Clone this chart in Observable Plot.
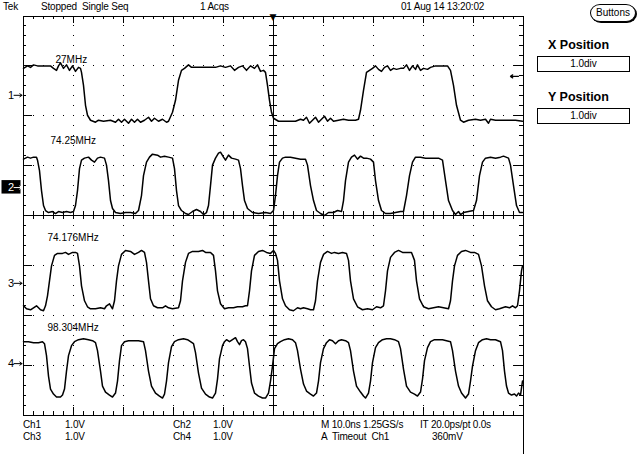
<!DOCTYPE html>
<html><head><meta charset="utf-8">
<script src="https://cdn.jsdelivr.net/npm/d3@7"></script>
<script src="https://cdn.jsdelivr.net/npm/@observablehq/plot@0.6"></script>
<style>
body{margin:0;background:#fff}
#wrap{position:relative;width:640px;height:454px;overflow:hidden;font-family:"Liberation Sans",Arial,sans-serif;color:#000;background:#fff}
#wrap svg{position:absolute;left:0;top:0}
.t{position:absolute;font-size:10px;line-height:12px;white-space:pre;letter-spacing:-0.2px}
.h{position:absolute;font-size:12.5px;font-weight:bold;line-height:14px;white-space:pre}
.box{position:absolute;border:1px solid #000;box-sizing:border-box;font-size:10px;text-align:center;background:#fff}
</style></head><body><div id="wrap"></div>
<script>
// ---- waveform data: [time (ns, 10 ns/div), screen position (div)] ----
const ch1 = [[-49.9,2.95],[-49.1,3.00],[-48.5,2.97],[-47.9,3.02],[-47.1,3.00],[-45.9,3.00],[-44.5,3.00],[-43.9,2.95],[-43.3,2.91],[-42.9,3.00],[-42.5,3.06],[-41.9,2.95],[-41.3,3.02],[-40.7,2.91],[-40.1,3.00],[-39.5,2.89],[-38.9,2.97],[-38.5,2.95],[-38.3,2.87],[-37.9,2.61],[-37.5,2.21],[-37.1,2.01],[-36.5,1.91],[-35.5,1.87],[-34.9,1.91],[-33.9,1.89],[-32.5,1.91],[-31.5,1.87],[-30.9,1.93],[-30.3,1.87],[-29.7,1.93],[-28.9,1.85],[-28.3,1.93],[-27.7,1.87],[-27.1,1.93],[-26.5,1.87],[-25.7,1.91],[-24.9,1.97],[-24.3,1.89],[-23.7,1.95],[-22.9,1.89],[-22.1,1.93],[-21.3,1.87],[-20.9,1.89],[-20.1,2.07],[-19.5,2.31],[-18.9,2.71],[-18.3,2.91],[-17.7,2.95],[-16.9,3.02],[-16.3,2.97],[-15.5,2.97],[-13.5,2.97],[-11.5,2.97],[-10.5,3.00],[-9.5,2.97],[-8.5,3.00],[-7.7,2.91],[-6.9,2.97],[-6.1,3.00],[-5.3,2.91],[-4.5,3.00],[-3.7,2.95],[-3.1,3.02],[-2.5,2.89],[-1.9,2.91],[-1.5,2.87],[-1.1,2.61],[-0.7,2.31],[-0.3,2.07],[0.1,1.95],[1.1,1.89],[2.5,1.89],[4.5,1.89],[5.5,1.93],[6.1,1.91],[6.7,1.97],[7.3,1.85],[7.9,1.91],[8.5,1.97],[9.1,1.87],[9.7,1.93],[10.3,1.99],[10.9,1.89],[11.5,1.95],[12.1,1.89],[13.1,1.91],[14.1,1.93],[15.1,1.91],[16.5,1.91],[17.1,1.93],[17.5,2.11],[18.1,2.51],[18.7,2.87],[19.3,2.91],[19.9,2.95],[20.5,3.00],[21.1,2.93],[21.7,2.89],[22.3,2.97],[22.9,3.00],[23.5,2.91],[24.1,2.95],[24.7,2.93],[25.5,2.95],[26.1,2.95],[26.7,3.02],[27.3,2.91],[27.9,3.00],[28.5,2.93],[28.9,3.02],[29.5,2.91],[30.1,2.95],[30.9,2.93],[31.5,2.97],[32.5,3.00],[33.5,3.00],[34.9,3.00],[35.5,2.91],[36.1,2.61],[36.7,2.21],[37.5,1.91],[38.1,1.87],[39.1,1.91],[40.5,1.93],[41.5,1.91],[42.5,1.93],[43.1,1.85],[43.5,1.93],[44.5,1.91],[46.5,1.91],[48.5,1.91],[49.9,1.89]];
const ch2 = [[-49.9,1.13],[-49.1,1.17],[-48.5,1.15],[-47.9,1.17],[-47.3,1.17],[-47.1,1.11],[-46.7,0.90],[-46.3,0.50],[-45.9,0.20],[-45.5,0.10],[-44.9,0.06],[-44.1,0.08],[-43.5,0.04],[-42.9,0.08],[-42.1,0.06],[-41.3,0.08],[-40.5,0.06],[-39.9,0.08],[-39.5,0.20],[-39.1,0.50],[-38.7,0.94],[-38.3,1.11],[-37.7,1.15],[-36.9,1.17],[-36.3,1.11],[-35.7,1.07],[-35.1,1.15],[-34.5,1.17],[-33.7,1.15],[-33.3,1.01],[-32.9,0.70],[-32.5,0.30],[-32.1,0.14],[-31.5,0.06],[-30.5,0.04],[-29.5,0.06],[-28.5,0.06],[-27.5,0.04],[-26.9,0.10],[-26.3,0.40],[-25.9,0.80],[-25.3,1.07],[-24.7,1.17],[-24.1,1.23],[-23.1,1.21],[-22.5,1.17],[-21.7,1.19],[-20.9,1.17],[-20.1,1.15],[-19.7,0.94],[-19.3,0.50],[-18.9,0.20],[-18.3,0.10],[-17.5,0.04],[-16.9,0.02],[-16.1,0.08],[-15.3,0.12],[-14.5,0.08],[-13.9,0.02],[-13.3,0.06],[-12.9,0.20],[-12.5,0.60],[-12.1,1.01],[-11.5,1.15],[-10.9,1.25],[-10.5,1.27],[-9.9,1.17],[-9.5,1.11],[-8.9,1.21],[-8.3,1.15],[-7.5,1.13],[-6.9,1.11],[-6.5,0.94],[-6.1,0.60],[-5.7,0.30],[-5.1,0.14],[-4.1,0.06],[-2.9,0.04],[-1.5,0.06],[-0.5,0.04],[0.1,0.10],[0.5,0.40],[0.9,0.80],[1.3,1.07],[1.9,1.15],[2.5,1.17],[3.5,1.17],[4.5,1.15],[5.5,1.13],[6.5,1.13],[6.9,1.01],[7.5,0.60],[8.1,0.30],[8.7,0.10],[9.5,0.04],[10.3,0.00],[11.1,0.06],[12.1,0.06],[12.9,0.10],[13.7,0.08],[14.1,0.30],[14.5,0.70],[15.1,1.07],[15.7,1.17],[16.3,1.21],[16.9,1.13],[17.5,1.19],[18.1,1.15],[18.7,1.15],[19.5,1.13],[20.1,1.07],[20.5,0.70],[21.1,0.30],[21.7,0.10],[22.5,0.04],[23.5,0.04],[24.5,0.06],[25.5,0.08],[26.1,0.08],[26.7,0.40],[27.3,0.80],[27.9,1.07],[28.5,1.17],[29.5,1.17],[30.5,1.15],[31.5,1.15],[33.1,1.15],[33.9,1.11],[34.5,0.70],[35.1,0.30],[35.9,0.10],[36.5,0.02],[37.1,0.08],[37.5,0.02],[38.1,0.06],[39.1,0.08],[40.1,0.10],[40.7,0.30],[41.3,0.80],[41.9,1.07],[42.5,1.15],[43.5,1.17],[44.5,1.15],[45.5,1.17],[46.1,1.19],[47.1,1.15],[47.5,1.01],[48.1,0.60],[48.7,0.20],[49.3,0.06],[49.9,0.06]];
const ch3 = [[-49.9,-1.81],[-49.3,-1.87],[-48.5,-1.89],[-47.9,-1.85],[-47.3,-1.81],[-46.9,-1.85],[-46.5,-1.89],[-45.9,-1.91],[-45.5,-1.81],[-45.1,-1.61],[-44.7,-1.31],[-44.3,-1.01],[-43.7,-0.80],[-43.1,-0.76],[-42.1,-0.76],[-41.5,-0.74],[-40.9,-0.78],[-40.1,-0.74],[-39.5,-0.74],[-39.1,-0.76],[-38.7,-1.01],[-38.3,-1.41],[-37.7,-1.71],[-37.1,-1.83],[-36.5,-1.87],[-35.5,-1.87],[-34.5,-1.85],[-33.7,-1.87],[-33.3,-1.81],[-32.7,-1.77],[-32.1,-1.87],[-31.7,-1.71],[-31.3,-1.31],[-30.9,-1.01],[-30.3,-0.78],[-29.5,-0.70],[-28.5,-0.72],[-27.7,-0.78],[-26.9,-0.74],[-26.3,-0.70],[-25.7,-0.74],[-25.3,-0.94],[-24.9,-1.31],[-24.5,-1.67],[-23.9,-1.81],[-23.1,-1.85],[-22.1,-1.85],[-21.5,-1.81],[-20.9,-1.85],[-20.1,-1.87],[-18.9,-1.85],[-18.5,-1.71],[-18.1,-1.31],[-17.5,-0.94],[-16.9,-0.76],[-16.1,-0.72],[-14.9,-0.72],[-14.1,-0.70],[-13.5,-0.74],[-12.5,-0.74],[-11.9,-0.80],[-11.5,-1.11],[-11.1,-1.51],[-10.5,-1.77],[-9.7,-1.87],[-8.9,-1.85],[-7.9,-1.85],[-7.1,-1.83],[-6.1,-1.83],[-5.5,-1.81],[-5.1,-1.81],[-4.7,-1.51],[-4.3,-1.11],[-3.7,-0.80],[-2.9,-0.72],[-2.1,-0.70],[-1.3,-0.74],[-0.5,-0.76],[0.1,-0.70],[0.5,-0.76],[0.9,-0.90],[1.3,-1.31],[1.9,-1.67],[2.5,-1.81],[3.3,-1.89],[4.1,-1.91],[4.9,-1.85],[5.5,-1.87],[6.1,-1.85],[6.9,-1.87],[7.5,-1.89],[8.1,-1.89],[8.5,-1.71],[8.9,-1.31],[9.5,-0.94],[10.1,-0.78],[10.9,-0.72],[11.7,-0.76],[12.3,-0.74],[13.1,-0.76],[13.9,-0.74],[14.7,-0.76],[15.1,-0.90],[15.5,-1.31],[16.1,-1.67],[16.9,-1.83],[17.9,-1.89],[18.9,-1.87],[19.9,-1.89],[20.7,-1.83],[21.5,-1.85],[22.1,-1.81],[22.5,-1.51],[22.9,-1.11],[23.5,-0.84],[24.3,-0.74],[25.1,-0.70],[25.9,-0.74],[26.9,-0.74],[27.7,-0.74],[28.3,-0.90],[28.7,-1.31],[29.3,-1.67],[30.1,-1.83],[31.1,-1.87],[32.1,-1.85],[33.1,-1.83],[34.1,-1.85],[35.1,-1.87],[35.5,-1.71],[35.9,-1.31],[36.3,-1.01],[36.9,-0.80],[37.7,-0.72],[38.5,-0.70],[39.5,-0.74],[40.3,-0.74],[41.1,-0.78],[41.7,-1.01],[42.3,-1.41],[42.9,-1.71],[43.7,-1.83],[44.5,-1.89],[45.3,-1.87],[45.9,-1.85],[46.5,-1.83],[47.3,-1.85],[47.9,-1.81],[48.5,-1.85],[48.9,-1.81],[49.3,-1.51],[49.7,-1.11],[49.9,-1.01]];
const ch4 = [[-49.9,-2.53],[-48.9,-2.53],[-47.9,-2.55],[-46.9,-2.55],[-46.1,-2.53],[-45.7,-2.57],[-45.3,-2.81],[-44.9,-3.22],[-44.5,-3.48],[-43.9,-3.58],[-43.3,-3.64],[-42.5,-3.64],[-42.1,-3.60],[-41.7,-3.48],[-41.3,-3.12],[-40.9,-2.81],[-40.3,-2.61],[-39.7,-2.53],[-38.9,-2.49],[-37.9,-2.47],[-36.9,-2.49],[-36.1,-2.51],[-35.5,-2.55],[-35.1,-2.71],[-34.5,-3.12],[-34.1,-3.42],[-33.5,-3.54],[-32.7,-3.60],[-32.1,-3.64],[-31.5,-3.56],[-31.1,-3.32],[-30.7,-2.91],[-30.3,-2.61],[-29.7,-2.53],[-28.9,-2.51],[-27.9,-2.51],[-26.9,-2.51],[-25.9,-2.53],[-25.5,-2.71],[-24.9,-3.12],[-24.3,-3.42],[-23.5,-3.56],[-22.7,-3.62],[-22.1,-3.66],[-21.7,-3.58],[-21.3,-3.32],[-20.9,-2.95],[-20.3,-2.63],[-19.7,-2.53],[-18.9,-2.49],[-17.9,-2.47],[-17.1,-2.49],[-16.5,-2.53],[-15.9,-2.57],[-15.5,-2.75],[-14.9,-3.16],[-14.3,-3.46],[-13.5,-3.58],[-12.7,-3.64],[-12.1,-3.66],[-11.5,-3.56],[-11.1,-3.28],[-10.7,-2.87],[-10.1,-2.61],[-9.7,-2.53],[-9.3,-2.49],[-8.7,-2.53],[-8.1,-2.49],[-7.5,-2.45],[-7.1,-2.53],[-6.7,-2.59],[-6.3,-2.51],[-5.9,-2.49],[-5.5,-2.53],[-5.1,-2.67],[-4.7,-3.02],[-4.3,-3.36],[-3.7,-3.56],[-2.9,-3.62],[-2.1,-3.66],[-1.5,-3.66],[-0.9,-3.56],[-0.5,-3.32],[-0.1,-3.02],[0.3,-2.67],[0.9,-2.57],[1.5,-2.53],[2.3,-2.49],[3.1,-2.47],[3.9,-2.49],[4.5,-2.55],[4.9,-2.71],[5.5,-3.08],[6.1,-3.38],[6.7,-3.52],[7.5,-3.58],[8.1,-3.62],[8.7,-3.56],[9.1,-3.32],[9.5,-2.95],[10.1,-2.67],[10.7,-2.55],[11.3,-2.49],[11.9,-2.51],[12.5,-2.57],[13.1,-2.51],[13.7,-2.49],[14.5,-2.51],[15.1,-2.55],[15.5,-2.71],[16.1,-3.12],[16.7,-3.42],[17.5,-3.54],[18.1,-3.62],[18.5,-3.66],[19.1,-3.56],[19.5,-3.32],[19.9,-2.95],[20.5,-2.65],[21.1,-2.55],[21.9,-2.49],[22.7,-2.47],[23.5,-2.47],[24.3,-2.49],[25.1,-2.53],[25.5,-2.67],[26.1,-3.08],[26.7,-3.42],[27.5,-3.54],[28.3,-3.58],[28.9,-3.62],[29.5,-3.54],[29.9,-3.28],[30.3,-2.91],[30.9,-2.65],[31.5,-2.53],[32.3,-2.49],[33.1,-2.49],[33.9,-2.49],[34.7,-2.51],[35.5,-2.53],[35.9,-2.71],[36.5,-3.12],[37.1,-3.42],[37.7,-3.56],[38.5,-3.66],[39.1,-3.58],[39.5,-3.32],[39.9,-3.02],[40.5,-2.71],[41.1,-2.55],[41.9,-2.49],[42.7,-2.47],[43.5,-2.49],[44.5,-2.49],[45.5,-2.53],[45.9,-2.71],[46.3,-3.12],[46.7,-3.42],[47.1,-3.56],[47.7,-3.60],[48.3,-3.58],[48.7,-3.62],[49.1,-3.56],[49.5,-3.60],[49.9,-3.32]];

// channel ground-marker positions (div) and labels
const channels = ["1", "2", "3", "4"];
const channelPos = [2.41, 0.56, -1.36, -2.97];
const freqLabels = ["27MHz", "74.25MHz", "74.176MHz", "98.304MHz"];
const freqLabelT = [-43.5, -44.5, -45.1, -45.1];
const freqLabelY = [3.13, 1.50, -0.44, -2.25];
const triggerLevel = 2.79;

// screen texts
const headerTexts = ["Tek", "Stopped  Single Seq", "1 Acqs", "01 Aug 14 13:20:02"];
const footerRow1 = ["Ch1", "1.0V", "Ch2", "1.0V", "M 10.0ns 1.25GS/s", "IT 20.0ps/pt 0.0s"];
const footerRow2 = ["Ch3", "1.0V", "Ch4", "1.0V", "A  Timeout  Ch1", "360mV"];
const panelTitles = ["X Position", "Y Position"];
const panelValues = ["1.0div", "1.0div"];
const buttonLabel = "Buttons";

// graticule
const minorX = d3.range(-48, 49, 2);
const majorX = d3.range(-40, 41, 10).filter(d => d !== 0);
const minorY = d3.range(-19, 20).map(i => i / 5);
const majorY = d3.range(-3, 4).filter(d => d !== 0);
const isMajX = d => Math.abs(d % 10) < 1e-9;
const isMajY = d => Math.abs(d - Math.round(d)) < 1e-9;
const crisp = {stroke: "black", strokeWidth: 1, shapeRendering: "crispEdges"};

const traces = [ch1, ch2, ch3, ch4];
const markers = channels.map((c, i) => ({c, pos: channelPos[i]}));
const labels = freqLabels.map((l, i) => ({l, t: freqLabelT[i], y: freqLabelY[i]}));

const plot = Plot.plot({
  width: 640, height: 454,
  marginLeft: 22.5, marginRight: 117.5, marginTop: 15.5, marginBottom: 39.5,
  x: {domain: [-50, 50], axis: null},
  y: {domain: [-4, 4], axis: null},
  style: {background: "transparent", fontFamily: "'Liberation Sans', Arial, sans-serif", color: "black", overflow: "visible"},
  marks: [
    Plot.ruleX(majorX, {x: d => d, y1: 4, y2: -4, ...crisp, strokeDasharray: "1,8.975"}),
    Plot.ruleY(majorY, {y: d => d, x1: -50, x2: 50, ...crisp, strokeDasharray: "1,9"}),
    Plot.ruleX([0], {x: d => d, y1: 4, y2: -4, ...crisp}),
    Plot.ruleY([0], {y: d => d, x1: -50, x2: 50, ...crisp}),
    Plot.ruleX(minorX, {x: d => d, y1: -0.08, y2: 0.08, ...crisp}),
    Plot.ruleY(minorY, {y: d => d, x1: -0.8, x2: 0.8, ...crisp}),
    Plot.ruleX(minorX, {x: d => d, y1: 4, y2: d => 4 - (isMajX(d) ? 0.16 : 0.07), ...crisp}),
    Plot.ruleX(minorX, {x: d => d, y1: -4, y2: d => -4 + (isMajX(d) ? 0.16 : 0.07), ...crisp}),
    Plot.ruleY(minorY, {y: d => d, x1: -50, x2: d => -50 + (isMajY(d) ? 1.8 : 0.7), ...crisp}),
    Plot.ruleY(minorY, {y: d => d, x1: 50, x2: d => 50 - (isMajY(d) ? 1.8 : 0.7), ...crisp}),
    Plot.frame({...crisp}),
    Plot.ruleX([50], {x: d => d, y1: -4, y2: -4.9, ...crisp}),
    ...traces.map(tr => Plot.line(tr, {x: d => d[0], y: d => d[1], stroke: "black", strokeWidth: 1.5, curve: "linear"})),
    Plot.text(labels, {x: "t", y: "y", text: "l", textAnchor: "start", fontSize: 10, fill: "black"}),
    Plot.rect(markers.filter(m => m.c === "2"), {x1: -54.2, x2: -50.4, y1: d => d.pos - 0.13, y2: d => d.pos + 0.14, fill: "black"}),
    Plot.text(markers, {x: -50, y: "pos", text: "c", textAnchor: "end", dx: -9, fontSize: 11, fill: d => d.c === "2" ? "white" : "black"}),
    Plot.arrow(markers, {x1: -51.8, x2: -50.2, y1: "pos", y2: "pos", stroke: d => d.c === "2" ? "white" : "black", strokeWidth: 1, headLength: 4, headAngle: 70}),
    Plot.text(["\u25BC"], {x: 0, y: 4, text: d => d, dy: 1, fontSize: 9, fill: "black", fontFamily: "DejaVu Sans"}),
    Plot.arrow([triggerLevel], {x1: 49.1, x2: 47.5, y1: d => d, y2: d => d, stroke: "black", strokeWidth: 1.3, headLength: 6, headAngle: 70})
  ]
});

const wrap = document.getElementById("wrap");
wrap.appendChild(plot);

function addText(txt, left, cy, cls) {
  const d = document.createElement("div");
  d.className = cls || "t";
  d.textContent = txt;
  d.style.left = left + "px";
  d.style.top = (cy - 6) + "px";
  wrap.appendChild(d);
  return d;
}
const headerX = [3, 41, 200, 401];
headerTexts.forEach((s, i) => addText(s, headerX[i], 7));
const footerX = [23, 65, 173, 213, 321, 420];
const footerX2 = [23, 65, 173, 213, 321, 432];
footerRow1.forEach((s, i) => addText(s, footerX[i], 425));
footerRow2.forEach((s, i) => addText(s, footerX2[i], 437));

// Buttons pill
const b = document.createElement("div");
b.className = "box";
b.textContent = buttonLabel;
Object.assign(b.style, {left: "590px", top: "4px", width: "46px", height: "18px", borderRadius: "10px / 9px", lineHeight: "16px", boxShadow: "1px 1px 0 #000"});
wrap.appendChild(b);

// X / Y position panel
const panelY = [45, 97];
panelTitles.forEach((s, i) => {
  addText(s, 548, panelY[i] - 1, "h");
  const bx = document.createElement("div");
  bx.className = "box";
  bx.textContent = panelValues[i];
  Object.assign(bx.style, {left: "537px", top: (panelY[i] + 11) + "px", width: "93px", height: "16px", lineHeight: "14px"});
  wrap.appendChild(bx);
});
</script></body></html>
